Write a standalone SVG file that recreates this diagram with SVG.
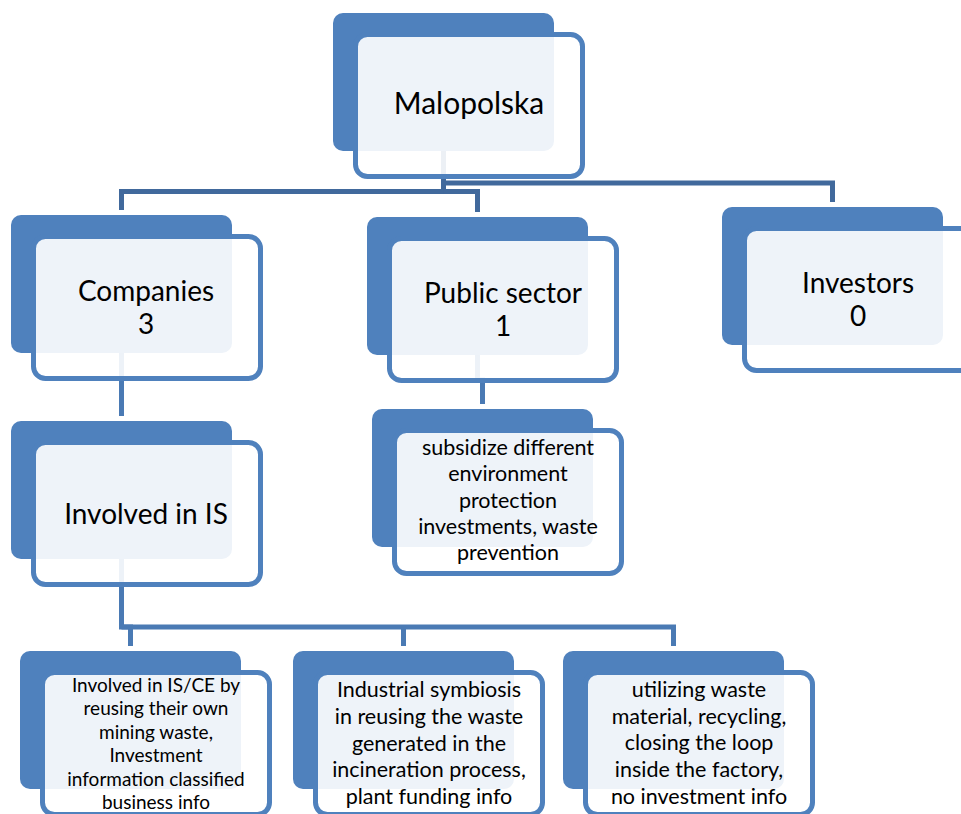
<svg xmlns="http://www.w3.org/2000/svg" width="961" height="814" viewBox="0 0 961 814">
<style>
.back{fill:#4F81BD}
.front{fill:#FFFFFF;fill-opacity:0.9;stroke:#4F81BD;stroke-width:5}
.c1{fill:none;stroke:#41699C;stroke-width:5}
.c2{fill:none;stroke:#4A7AB4;stroke-width:5}
text{font-family:Lato,"Liberation Sans",sans-serif;fill:#000;text-anchor:middle}
.l1{font-size:30px}
.l2{font-size:28px}
.l3{font-size:21.5px}
.l4{font-size:19px}
</style>
<g id="connectors">
<path class="c1" d="M443.5,151 V183 H832.5 V202"/>
<path class="c1" d="M443.5,151 V191.5 H121.5 V210"/>
<path class="c1" d="M443.5,191.5 H477.5 V212"/>
<path class="c2" d="M121.5,353 V416"/>
<path class="c2" d="M477.5,355 V380 H482.5 V404"/>
<path class="c2" d="M121.5,559 V627 H130.5 V646"/>
<path class="c2" d="M121.5,627 H673.5 V646"/>
<path class="c2" d="M403.5,627 V646"/>
</g>
<g id="malopolska">
<rect class="back" x="333" y="13" width="221" height="138" rx="10"/>
<rect class="front" x="355.5" y="34.5" width="227" height="142" rx="12"/>
<text class="l1" x="469" y="114">Malopolska</text>
</g>
<g id="companies">
<rect class="back" x="11" y="215" width="221" height="138" rx="10"/>
<rect class="front" x="33.5" y="236.5" width="227" height="142" rx="12"/>
<text class="l2" x="146" y="301">Companies</text>
<text class="l2" x="146" y="334">3</text>
</g>
<g id="public-sector">
<rect class="back" x="367" y="217" width="221" height="138" rx="10"/>
<rect class="front" x="389.5" y="238.5" width="227" height="142" rx="12"/>
<text class="l2" x="503" y="303">Public sector</text>
<text class="l2" x="503" y="336">1</text>
</g>
<g id="investors">
<rect class="back" x="722" y="207" width="221" height="138" rx="10"/>
<rect class="front" x="744.5" y="228.5" width="227" height="142" rx="12"/>
<text class="l2" x="858" y="293">Investors</text>
<text class="l2" x="858" y="326">0</text>
</g>
<g id="involved-in-is">
<rect class="back" x="11" y="421" width="221" height="138" rx="10"/>
<rect class="front" x="33.5" y="442.5" width="227" height="142" rx="12"/>
<text class="l2" x="146" y="524">Involved in IS</text>
</g>
<g id="subsidize">
<rect class="back" x="372" y="409" width="221" height="138" rx="10"/>
<rect class="front" x="394.5" y="430.5" width="227" height="143" rx="12"/>
<text class="l3" x="508" y="455">subsidize different</text>
<text class="l3" x="508" y="481">environment</text>
<text class="l3" x="508" y="507.5">protection</text>
<text class="l3" x="508" y="534">investments, waste</text>
<text class="l3" x="508" y="560">prevention</text>
</g>
<g id="mining-waste">
<rect class="back" x="20" y="651" width="221" height="138" rx="10"/>
<rect class="front" x="42.5" y="672.5" width="227" height="142" rx="12"/>
<text class="l4" x="156" y="692">Involved in IS/CE by</text>
<text class="l4" x="156" y="715">reusing their own</text>
<text class="l4" x="156" y="738.5">mining waste,</text>
<text class="l4" x="156" y="762">Investment</text>
<text class="l4" x="156" y="785.5">information classified</text>
<text class="l4" x="156" y="808.5">business info</text>
</g>
<g id="industrial-symbiosis">
<rect class="back" x="293" y="651" width="221" height="138" rx="10"/>
<rect class="front" x="315.5" y="672.5" width="227" height="142" rx="12"/>
<text class="l3" x="429" y="697">Industrial symbiosis</text>
<text class="l3" x="429" y="724">in reusing the waste</text>
<text class="l3" x="429" y="750.5">generated in the</text>
<text class="l3" x="429" y="777">incineration process,</text>
<text class="l3" x="429" y="803.5">plant funding info</text>
</g>
<g id="utilizing-waste">
<rect class="back" x="563" y="651" width="221" height="138" rx="10"/>
<rect class="front" x="585.5" y="672.5" width="227" height="142" rx="12"/>
<text class="l3" x="699" y="697">utilizing waste</text>
<text class="l3" x="699" y="723.5">material, recycling,</text>
<text class="l3" x="699" y="750">closing the loop</text>
<text class="l3" x="699" y="777">inside the factory,</text>
<text class="l3" x="699" y="803.5">no investment info</text>
</g>
</svg>
